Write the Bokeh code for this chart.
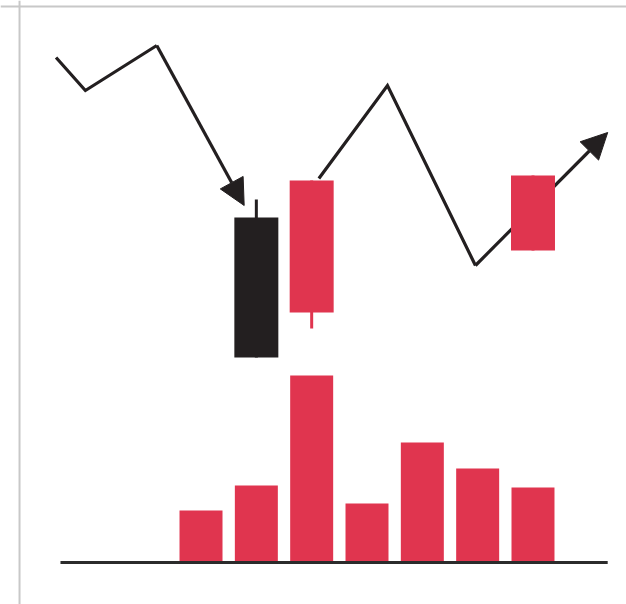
from bokeh.plotting import figure
from bokeh.models import Range1d, Span, Arrow, NormalHead, ColumnDataSource
from bokeh.embed import file_html
from bokeh.resources import INLINE

# ---- data ----
# volume bars (slot index, volume)
vol_x = [1, 2, 3, 4, 5, 6, 7]
vol_v = [52, 77, 187, 59, 120, 94, 75]

# candles (slot index, open, close, high, low)
cdl_x = [2, 3, 7]
cdl_open = [345, 250, 312]
cdl_close = [205, 382, 387]
cdl_high = [363, 382, 387]
cdl_low = [205, 234, 312]

# price path 1 (falling, ends with arrow)
path1_x = [-1.62, -1.09, 0.20, 1.78]
path1_y = [505, 472, 517, 357]
# price path 2 (rising, ends with arrow)
path2_x = [3.13, 4.37, 5.96, 8.35]
path2_y = [384, 477, 297, 430]

# baseline extent
base_x = [-1.54, 8.35]

RED = "#E0354F"
DARK = "#231F20"

p = figure(width=626, height=604, output_backend="svg", toolbar_location=None,
           x_range=Range1d(-2.624, 8.690), y_range=Range1d(-42, 562),
           min_border=0, background_fill_color="white", border_fill_color="white")
p.axis.visible = False
p.grid.visible = False
p.outline_line_color = None

# frame border lines (light grey)
p.add_layout(Span(location=556, dimension="width", line_color="#c8c8c8", line_width=2))
p.add_layout(Span(location=-2.28, dimension="height", line_color="#c8c8c8", line_width=2))

# price paths
for xs, ys in ((path1_x, path1_y), (path2_x, path2_y)):
    p.line(xs[:-1], ys[:-1], line_color=DARK, line_width=3.2, line_join="miter")
    p.add_layout(Arrow(end=NormalHead(size=26, fill_color=DARK, line_color=DARK, line_width=1),
                       x_start=xs[-2], y_start=ys[-2], x_end=xs[-1], y_end=ys[-1],
                       line_color=DARK, line_width=3.2, level="underlay"))

# candles
colors = [DARK if c < o else RED for o, c in zip(cdl_open, cdl_close)]
src = ColumnDataSource(dict(x=cdl_x, top=[max(o, c) for o, c in zip(cdl_open, cdl_close)],
                            bottom=[min(o, c) for o, c in zip(cdl_open, cdl_close)],
                            high=cdl_high, low=cdl_low, color=colors))
p.segment(x0="x", y0="high", x1="x", y1="low", source=src, line_color="color", line_width=3)
p.vbar(x="x", top="top", bottom="bottom", width=0.795, source=src,
       fill_color="color", line_color=None)

# volume bars
p.vbar(x=vol_x, top=vol_v, bottom=0, width=0.777, fill_color=RED, line_color=None)

# baseline
p.line(base_x, [0, 0], line_color="#2b2b2b", line_width=3)

open("out.html", "w").write(file_html(p, INLINE))
